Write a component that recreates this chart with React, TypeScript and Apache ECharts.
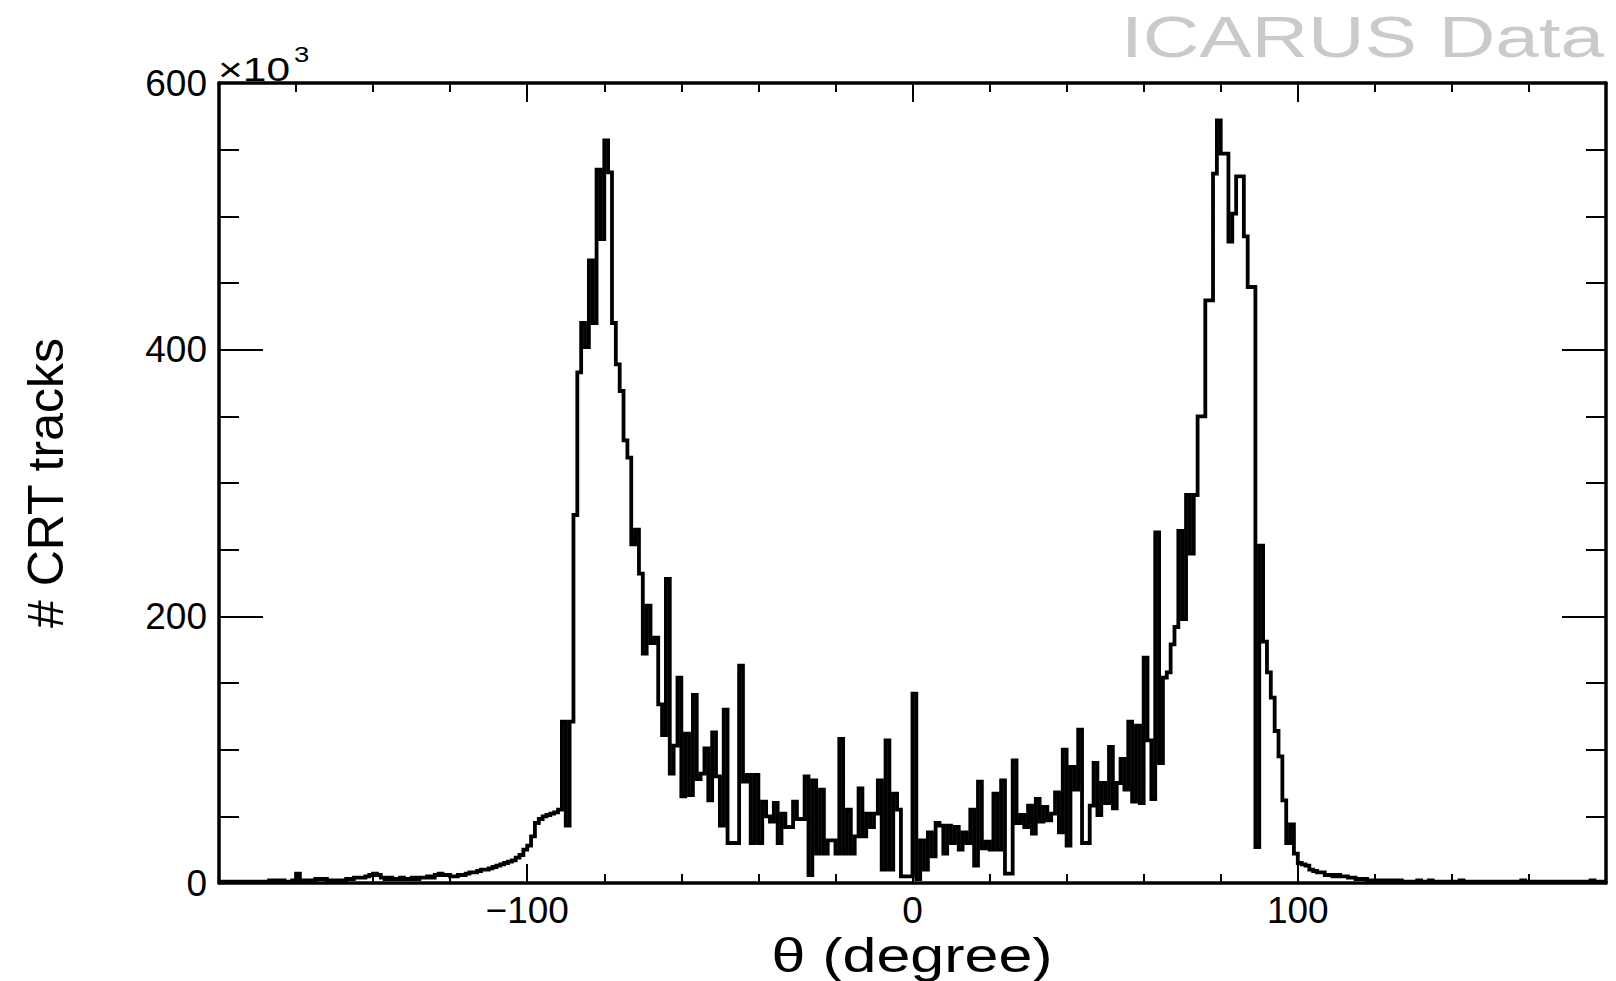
import React, { useEffect, useRef } from 'react';
import * as echarts from 'echarts';

// Histogram of theta, 1-degree bins starting at -180 (values in thousands of tracks)
const BIN_START = -180;
const BIN_WIDTH = 1;
const X_MIN = -180;
const X_MAX = 180;

// bins -180 .. -111
const tailLeft = [
  1, 1, 1, 1, 1, 1, 1, 1, 1, 1,
  1, 1, 1, 2, 2, 2, 2, 1, 1, 2,
  7, 2, 2, 2, 1, 3, 3, 3, 2, 2,
  2, 2, 2, 3, 3, 4, 4, 4, 5, 6,
  7, 6, 4, 3, 4, 3, 3, 4, 3, 3,
  4, 3, 4, 4, 5, 4, 6, 7, 6, 6,
  5, 5, 6, 6, 7, 8, 8, 9, 10, 10,
];
// bins -110 .. -61
const peakLeft = [
  11, 12, 13, 14, 15, 16, 17, 19, 21, 25,
  28, 35, 45, 48, 50, 51, 52, 53, 55, 121,
  43, 121, 276, 383, 420, 402, 467, 420, 535, 483,
  557, 533, 420, 389, 369, 332, 319, 254, 265, 232,
  172, 208, 180, 184, 134, 111, 228, 82, 103, 154,
];
// bins -60 .. -1
const centerLeft = [
  65, 112, 66, 141, 78, 82, 101, 62, 113, 80,
  43, 130, 30, 30, 30, 163, 76, 81, 30, 81,
  30, 61, 50, 46, 60, 30, 52, 42, 42, 61,
  48, 48, 80, 6, 77, 22, 70, 22, 32, 32,
  22, 108, 22, 55, 22, 35, 71, 35, 52, 42,
  52, 77, 10, 107, 10, 67, 55, 5, 5, 5,
];
// bins 0 .. 59
const centerRight = [
  142, 3, 32, 10, 38, 20, 45, 43, 22, 43,
  30, 42, 25, 38, 30, 55, 13, 76, 26, 31,
  25, 67, 25, 77, 7, 7, 92, 45, 51, 42,
  58, 37, 63, 46, 57, 47, 52, 68, 38, 100,
  28, 87, 70, 115, 30, 30, 58, 90, 51, 75,
  60, 102, 56, 75, 93, 70, 121, 61, 118, 60,
];
// bins 60 .. 109
const peakRight = [
  169, 107, 63, 263, 90, 154, 158, 179, 192, 264,
  198, 291, 247, 291, 350, 350, 437, 437, 532, 572,
  547, 547, 481, 502, 530, 530, 485, 447, 447, 27,
  253, 181, 158, 139, 114, 95, 62, 30, 44, 22,
  15, 14, 13, 10, 9, 8, 8, 6, 6, 5,
];
// bins 110 .. 179
const tailRight = [
  6, 5, 5, 4, 4, 3, 3, 3, 2, 2,
  2, 2, 2, 2, 2, 1, 2, 1, 1, 1,
  1, 2, 1, 1, 2, 1, 1, 1, 1, 1,
  1, 1, 2, 1, 1, 1, 1, 1, 1, 1,
  1, 1, 1, 1, 1, 1, 1, 1, 2, 1,
  1, 1, 1, 1, 1, 1, 1, 1, 1, 1,
  1, 1, 1, 1, 1, 1, 2, 1, 1, 1,
];

const xMajorTicks = [-100, 0, 100];
const yMin = 0;
const yMax = 600;
const yInterval = 200;

const FONT = '"Liberation Sans", Arial, Helvetica, sans-serif';

export default function App() {
  const ref = useRef<HTMLDivElement>(null);

  useEffect(() => {
    if (!ref.current) return;
    const chart = echarts.init(ref.current, undefined, { renderer: 'svg' });

    const counts = [
      ...tailLeft,
      ...peakLeft,
      ...centerLeft,
      ...centerRight,
      ...peakRight,
      ...tailRight,
    ];
    const data: [number, number][] = counts.map((v, i) => [BIN_START + i * BIN_WIDTH, v]);
    data.push([BIN_START + counts.length * BIN_WIDTH, counts[counts.length - 1]]);

    const black = '#000000';
    const minorX = (position: 'top' | 'bottom') => ({
      type: 'value',
      position,
      min: X_MIN,
      max: X_MAX,
      interval: 20,
      axisLine: { show: true, onZero: false, lineStyle: { color: black, width: 3.5 } },
      axisTick: { show: true, inside: true, length: 9, lineStyle: { color: black, width: 2 } },
      axisLabel: { show: false },
      splitLine: { show: false },
    });
    const majorX = (position: 'top' | 'bottom', labels: boolean) => ({
      type: 'value',
      position,
      min: X_MIN,
      max: X_MAX,
      axisLine: { show: false, onZero: false },
      axisTick: {
        show: true,
        inside: true,
        length: 19,
        customValues: xMajorTicks,
        lineStyle: { color: black, width: 2 },
      },
      axisLabel: {
        show: labels,
        customValues: xMajorTicks,
        margin: 9,
        fontSize: 37,
        fontFamily: FONT,
        color: black,
        formatter: (v: number) => String(v).replace('-', '\u2212'),
      },
      splitLine: { show: false },
    });
    const yAx = (position: 'left' | 'right', labels: boolean) => ({
      type: 'value',
      position,
      min: yMin,
      max: yMax,
      interval: yInterval,
      axisLine: { show: true, onZero: false, lineStyle: { color: black, width: 3.5 } },
      axisTick: { show: true, inside: true, length: 44, lineStyle: { color: black, width: 2 } },
      minorTick: { show: true, splitNumber: 4, length: 20, lineStyle: { color: black, width: 2 } },
      axisLabel: {
        show: labels,
        margin: 12,
        fontSize: 37,
        fontFamily: FONT,
        color: black,
      },
      splitLine: { show: false },
      minorSplitLine: { show: false },
      ...(labels
        ? {
            name: '# CRT tracks',
            nameLocation: 'middle',
            nameRotate: 90,
            nameGap: 148,
            nameTextStyle: { fontSize: 50, fontFamily: FONT, color: black },
          }
        : {}),
    });

    chart.setOption({
      animation: false,
      backgroundColor: '#ffffff',
      grid: { left: 219, right: 10, top: 83, bottom: 98, containLabel: false },
      xAxis: [minorX('bottom'), majorX('bottom', true), minorX('top'), majorX('top', false)],
      yAxis: [yAx('left', true), yAx('right', false)],
      graphic: [
        {
          type: 'text',
          x: 1604,
          y: 37,
          scaleX: 1.35,
          style: {
            text: 'ICARUS Data',
            font: `58px ${FONT}`,
            fill: '#cacaca',
            align: 'right',
            verticalAlign: 'middle',
            textAlign: 'right',
            textVerticalAlign: 'middle',
          },
        },
        {
          type: 'text',
          x: 912,
          y: 955,
          scaleX: 1.27,
          style: {
            text: '\u03b8 (degree)',
            font: `48px ${FONT}`,
            fill: black,
            align: 'center',
            verticalAlign: 'middle',
            textAlign: 'center',
            textVerticalAlign: 'middle',
          },
        },
        {
          type: 'text',
          x: 218,
          y: 69,
          scaleX: 1.25,
          style: {
            text: '\u00d710',
            font: `34px ${FONT}`,
            fill: black,
            align: 'left',
            verticalAlign: 'middle',
            textAlign: 'left',
            textVerticalAlign: 'middle',
          },
        },
        {
          type: 'text',
          x: 294,
          y: 54,
          scaleX: 1.25,
          style: {
            text: '3',
            font: `22px ${FONT}`,
            fill: black,
            align: 'left',
            verticalAlign: 'middle',
            textAlign: 'left',
            textVerticalAlign: 'middle',
          },
        },
      ],
      series: [
        {
          type: 'line',
          xAxisIndex: 0,
          yAxisIndex: 0,
          step: 'end',
          data,
          symbol: 'none',
          showSymbol: false,
          silent: true,
          lineStyle: { color: black, width: 3.8, join: 'miter' },
        },
      ],
    });

    return () => {
      chart.dispose();
    };
  }, []);

  return (
    <div
      ref={ref}
      style={{ position: 'fixed', left: 0, top: 0, width: 1616, height: 981, background: '#fff' }}
    />
  );
}
